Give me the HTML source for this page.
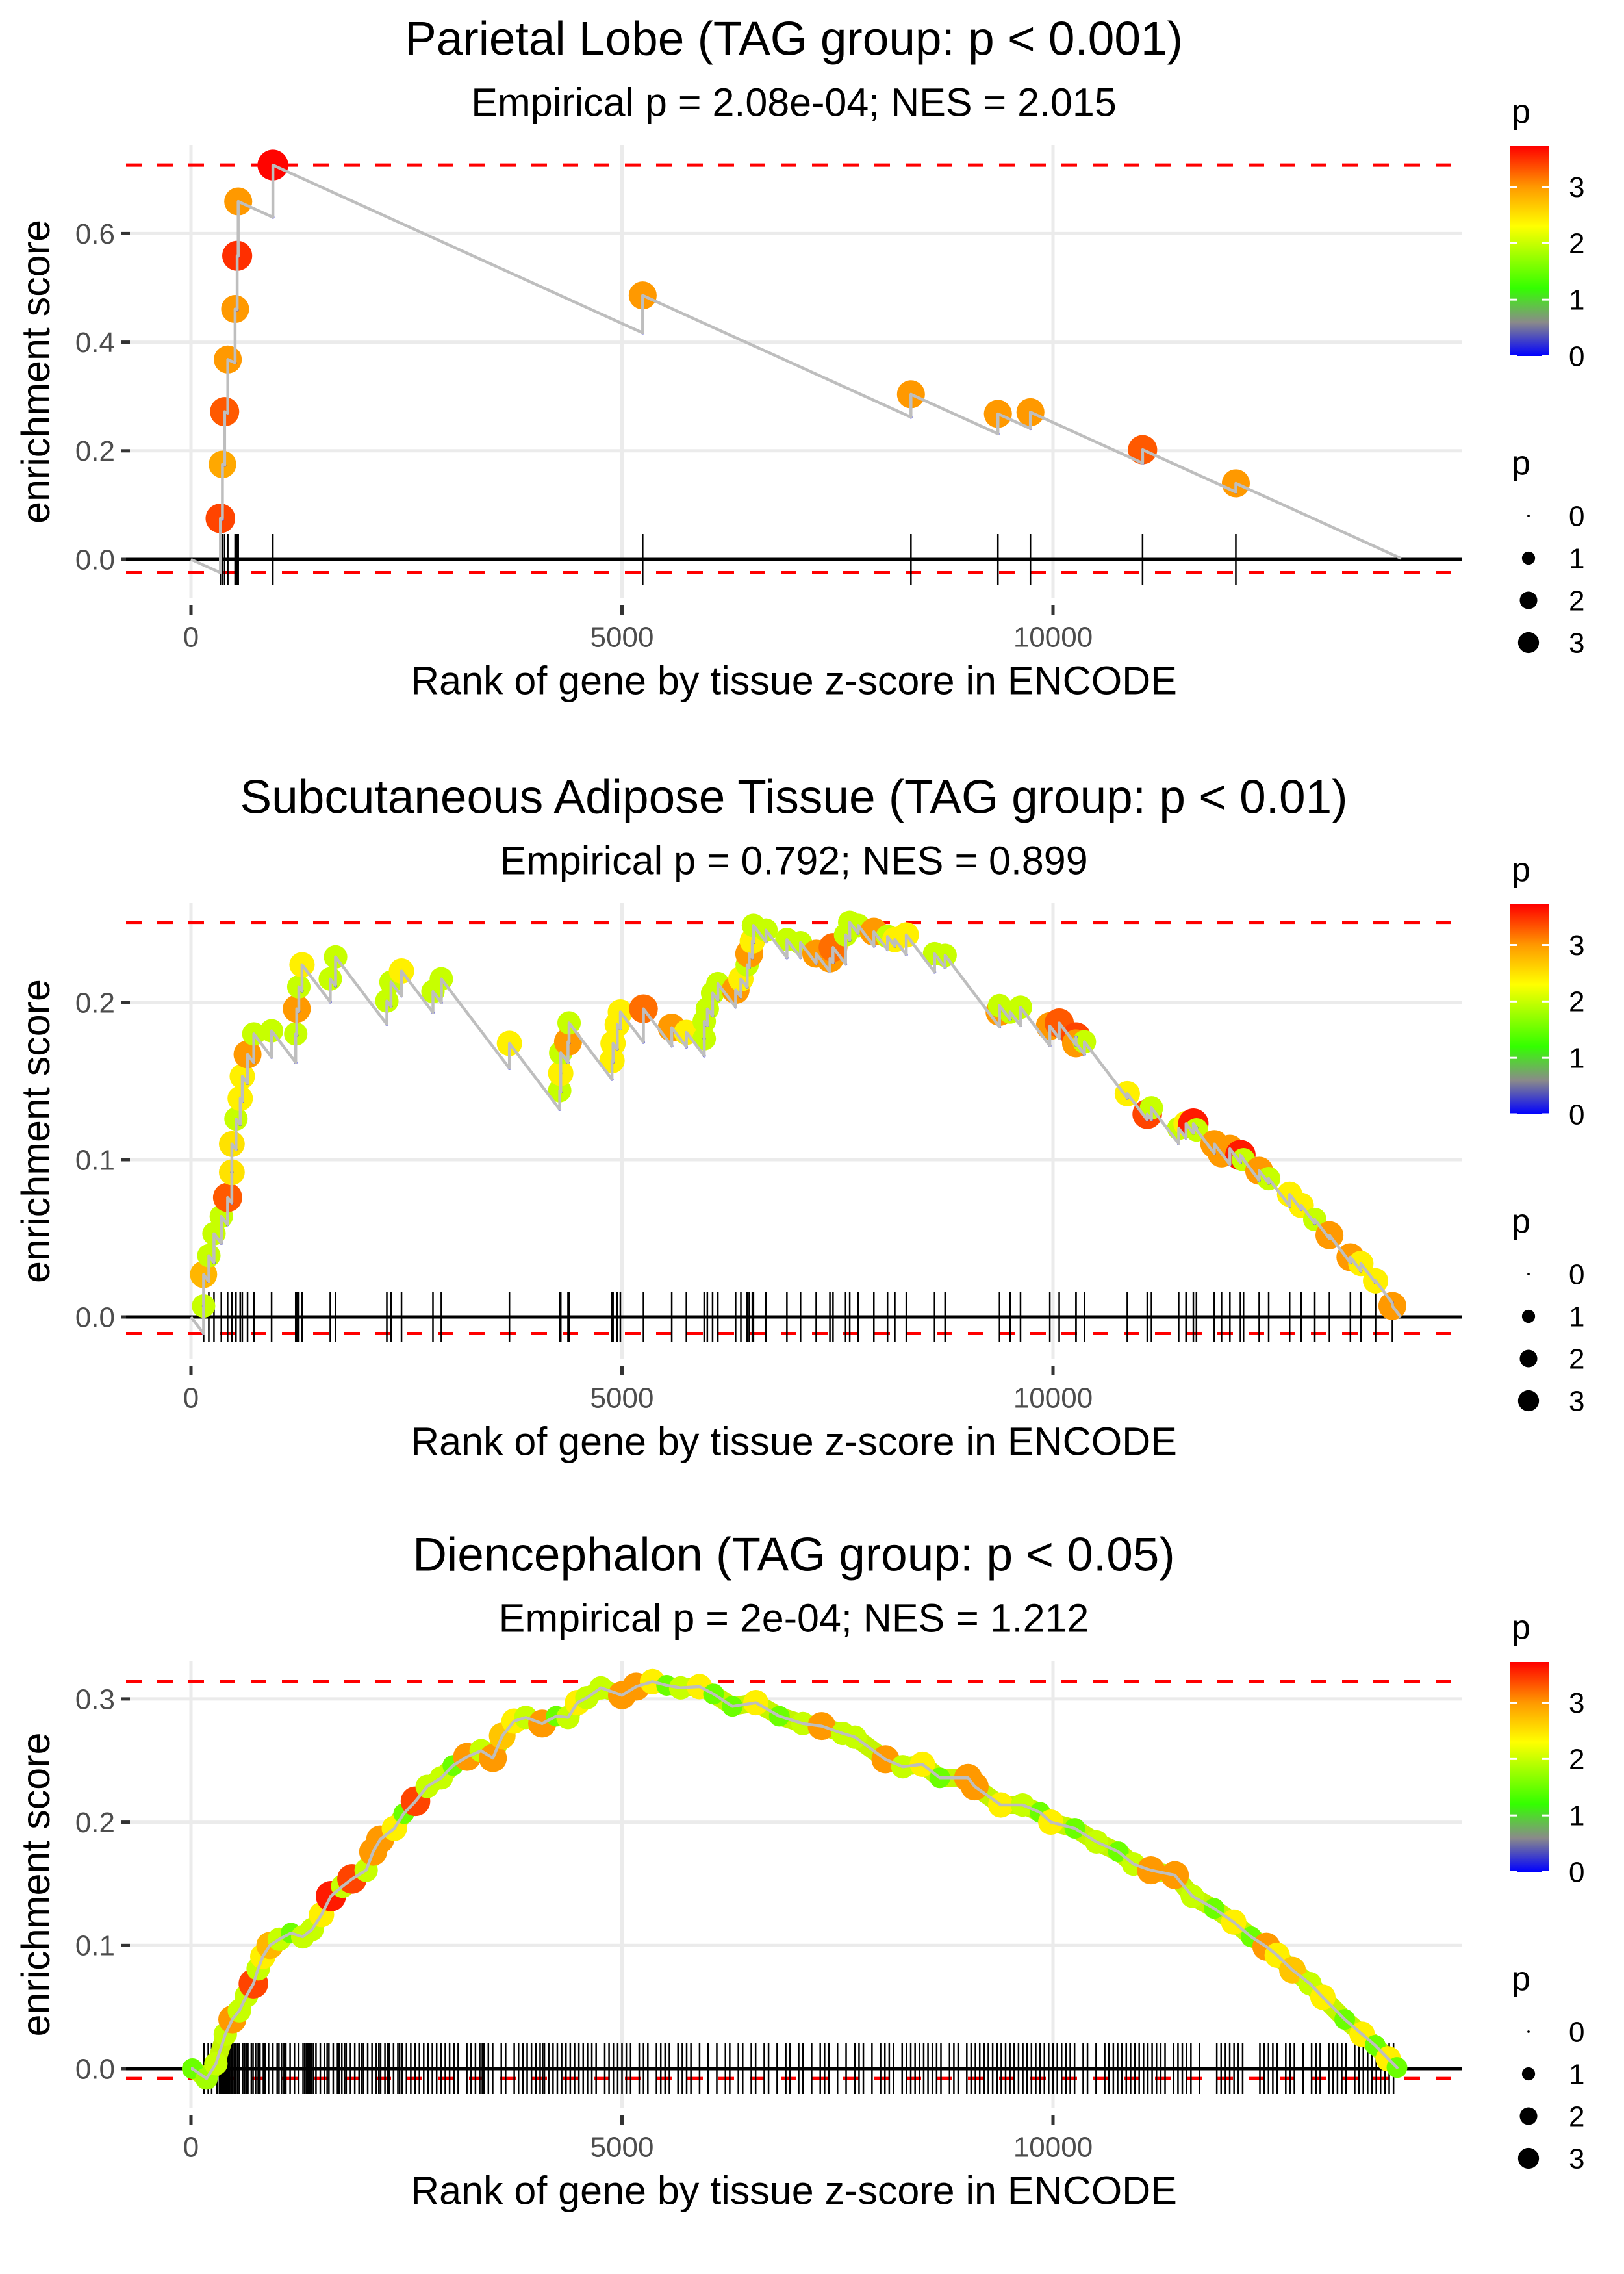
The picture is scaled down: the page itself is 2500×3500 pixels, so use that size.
<!DOCTYPE html>
<html><head><meta charset="utf-8"><style>html,body{margin:0;padding:0;background:#fff}svg{display:block}text{font-family:"Liberation Sans",Arial,sans-serif}</style></head>
<body>
<svg id="chart" width="2500" height="3500" viewBox="0 0 2500 3500" xmlns="http://www.w3.org/2000/svg"></svg>
<script>
// ---------- data ----------
const p1Titles = ["Parietal Lobe (TAG group: p < 0.001)", "Empirical p = 2.08e-04; NES = 2.015"];
const p1Rank = [341,365,390,427,512,536,548,950,5240,8352,9361,9738,11039,12121];
const p1ES   = [0.0755,0.175,0.272,0.368,0.461,0.559,0.659,0.726,0.486,0.304,0.268,0.271,0.202,0.140];
const p1P    = [3.4,2.9,3.3,3.0,3.0,3.5,3.0,3.7,3.0,3.0,3.0,3.0,3.3,3.0];
const p1N = 14040;
const p1Step = 7.2e-5;
const p1YTicks = [0,0.2,0.4,0.6];
const p1YLabels = ["0.0","0.2","0.4","0.6"];

const p2Titles = ["Subcutaneous Adipose Tissue (TAG group: p < 0.01)", "Empirical p = 0.792; NES = 0.899"];
const p2Rank = [146,146,207,267,352,425,474,474,522,571,595,656,729,935,1215,1227,1251,1288,1616,1677,2272,2320,2442,2807,2904,3694,4277,4289,4289,4374,4386,4884,4896,4945,4981,5249,5577,5747,5954,5954,5990,6051,6112,6318,6379,6452,6476,6512,6525,6670,6913,7071,7253,7412,7448,7594,7642,7740,7922,8080,8165,8298,8626,8748,9380,9380,9502,9623,9963,10072,10267,10267,10364,10862,11093,11142,11458,11543,11628,11664,11871,11955,12052,12174,12210,12392,12502,12745,12879,13037,13207,13450,13571,13742,13937];
const p2ES = [0.007,0.027,0.039,0.053,0.064,0.076,0.092,0.110,0.126,0.139,0.153,0.167,0.180,0.182,0.180,0.196,0.210,0.224,0.215,0.229,0.201,0.213,0.220,0.207,0.215,0.174,0.144,0.155,0.168,0.175,0.187,0.163,0.174,0.186,0.194,0.196,0.184,0.181,0.177,0.188,0.196,0.206,0.212,0.208,0.215,0.224,0.231,0.239,0.249,0.246,0.240,0.238,0.231,0.228,0.235,0.243,0.251,0.249,0.245,0.242,0.240,0.243,0.231,0.230,0.194,0.198,0.194,0.197,0.185,0.187,0.178,0.174,0.175,0.142,0.129,0.133,0.120,0.123,0.123,0.119,0.110,0.104,0.107,0.103,0.100,0.093,0.088,0.078,0.071,0.062,0.052,0.038,0.034,0.023,0.007];
const p2P = [2.0,2.8,2.0,2.0,2.0,3.3,2.5,2.5,2.0,2.4,2.4,3.0,2.0,2.0,2.0,3.0,2.0,2.4,2.0,2.0,2.0,2.0,2.4,2.0,2.0,2.4,2.0,2.4,2.0,3.0,2.0,2.4,2.4,2.4,2.4,3.2,3.0,2.4,2.0,2.0,2.0,2.0,2.0,3.0,2.4,2.0,3.0,2.4,2.0,2.0,2.0,2.0,3.0,3.0,3.2,2.0,2.0,2.0,3.0,2.0,2.4,2.4,2.0,2.0,3.0,2.0,2.0,2.0,3.0,3.3,3.4,3.0,2.0,2.4,3.4,2.0,2.0,2.4,3.6,2.0,3.0,3.0,3.0,3.6,2.0,3.0,2.0,2.4,2.4,2.0,3.0,3.0,2.4,2.4,3.0];
const p2N = 14035;
const p2Step = 7.2e-5;
const p2YTicks = [0,0.1,0.2];
const p2YLabels = ["0.0","0.1","0.2"];

const p3Titles = ["Diencephalon (TAG group: p < 0.05)", "Empirical p = 2e-04; NES = 1.212"];
const p3Rank = [16,180,289,398,479,561,643,724,779,833,915,1024,1160,1296,1405,1514,1623,1759,1868,2032,2113,2195,2359,2468,2604,2740,2903,3039,3203,3366,3502,3611,3748,3884,4074,4238,4374,4483,4592,4755,5000,5164,5354,5518,5681,5899,6062,6280,6553,6825,7098,7316,7561,7702,8056,8258,8485,8687,9015,9091,9394,9647,9849,9975,10253,10505,10758,10934,11136,11414,11616,11869,12096,12298,12475,12601,12778,12980,13131,13384,13586,13737,13889,13990];
const p3ES = [0.0,-0.008,0.004,0.028,0.040,0.047,0.059,0.069,0.081,0.091,0.100,0.105,0.110,0.107,0.113,0.125,0.140,0.148,0.154,0.161,0.176,0.186,0.195,0.207,0.217,0.229,0.236,0.246,0.253,0.258,0.252,0.270,0.282,0.285,0.280,0.286,0.285,0.297,0.301,0.309,0.303,0.310,0.314,0.311,0.309,0.310,0.304,0.294,0.297,0.286,0.280,0.278,0.272,0.269,0.251,0.245,0.247,0.236,0.236,0.229,0.214,0.214,0.208,0.200,0.195,0.184,0.176,0.166,0.161,0.157,0.140,0.130,0.119,0.107,0.099,0.092,0.080,0.069,0.058,0.040,0.028,0.019,0.008,0.001];
const p3P = [1.5,1.8,2.0,2.0,3.0,2.0,2.0,3.4,2.0,2.4,2.8,2.0,1.5,2.0,2.0,2.4,3.6,2.0,3.4,2.0,3.0,3.0,2.4,1.5,3.4,2.0,2.0,1.5,3.0,2.0,3.0,2.7,2.4,2.0,3.0,1.5,2.0,2.4,2.0,2.0,3.0,3.0,2.4,1.5,2.0,2.4,1.5,1.5,2.4,1.5,2.0,3.0,2.0,2.0,3.0,2.0,2.4,1.5,3.0,3.0,2.4,2.0,1.5,2.4,1.5,2.0,1.5,2.0,3.0,3.0,2.0,1.5,2.4,1.5,3.0,2.4,2.7,2.0,2.4,1.5,2.4,1.5,2.4,1.5];
const p3Rug = [150,200,240,300,330,345,360,380,395,410,430,450,470,480,500,520,540,560,600,620,640,660,700,720,750,780,800,840,860,900,950,1000,1020,1050,1080,1100,1150,1200,1250,1300,1320,1340,1350,1360,1370,1380,1400,1420,1450,1500,1550,1580,1600,1650,1700,1720,1750,1780,1800,1850,1900,1950,1980,2000,2050,2100,2150,2180,2200,2250,2280,2300,2350,2400,2420,2450,2500,2550,2600,2650,2700,2750,2800,2850,2900,2950,3000,3050,3100,3200,3250,3300,3350,3380,3400,3450,3500,3600,3650,3750,3800,3850,3900,3950,4000,4050,4080,4100,4150,4200,4250,4300,4350,4400,4450,4500,4550,4600,4650,4700,4800,4850,4900,4950,5000,5050,5100,5200,5250,5300,5400,5450,5500,5550,5650,5700,5750,5800,5900,6000,6100,6200,6250,6350,6400,6500,6550,6650,6700,6800,6900,6950,7050,7100,7200,7300,7350,7400,7500,7600,7700,7750,7800,7900,8000,8050,8100,8150,8250,8300,8350,8400,8450,8500,8550,8600,8650,8700,8800,8850,8900,9000,9050,9100,9150,9200,9250,9300,9350,9400,9450,9500,9550,9600,9650,9700,9750,9800,9850,9900,9950,10000,10050,10100,10150,10200,10250,10350,10400,10500,10600,10650,10700,10750,10800,10850,10900,10950,11000,11050,11100,11150,11200,11250,11300,11400,11450,11500,11550,11600,11700,11900,11950,12000,12050,12100,12150,12200,12400,12450,12500,12550,12600,12700,12750,12800,12900,13000,13050,13100,13200,13250,13300,13350,13400,13500,13550,13600,13650,13700,13750,13800,13850,13900,13950];
const p3N = 14000;
const p3YTicks = [0,0.1,0.2,0.3];
const p3YLabels = ["0.0","0.1","0.2","0.3"];

const xTicks = [0,5000,10000];
const xTickLabels = ["0","5000","10000"];
const legendVals = [0,1,2,3];
const legendLabels = ["0","1","2","3"];
const colorStops = [0,0.6,1.2,2.3,3.0,3.72];
const colorHex = ["#0000ff","#8a8a8a","#33ff00","#ffff00","#ff9900","#ff0000"];

// ---------- helpers ----------
const NS = "http://www.w3.org/2000/svg";
const svg = document.getElementById('chart');
function mk(tag, attrs, parent){ const e=document.createElementNS(NS,tag); for(const k in attrs) e.setAttribute(k,attrs[k]); (parent||svg).appendChild(e); return e; }
function hex2rgb(h){ return [parseInt(h.substr(1,2),16),parseInt(h.substr(3,2),16),parseInt(h.substr(5,2),16)]; }
function pColor(p){
  if(p<=colorStops[0]) return colorHex[0];
  for(let i=1;i<colorStops.length;i++){ if(p<=colorStops[i]){ const t=(p-colorStops[i-1])/(colorStops[i]-colorStops[i-1]); const a=hex2rgb(colorHex[i-1]), b=hex2rgb(colorHex[i]); return 'rgb('+a.map((v,j)=>Math.round(v+(b[j]-v)*t)).join(',')+')'; } }
  return colorHex[colorHex.length-1];
}
function pRad(p){ return 2.5 + 11*Math.sqrt(Math.max(p,0)); }
const X0=294, XK=0.1327, LEFT=194, RIGHT=2250, LG=-23;
function xs(r){ return X0 + r*XK; }

function txt(parent,x,y,s,fs,anchor,fill,name){
  const t=mk('text',{x:x,y:y+fs*0.35,'font-size':fs,'text-anchor':anchor,fill:fill},parent);
  
  
  t.textContent=s; return t;
}

function panel(idx, off, cfg){
  const g=mk('g',{});
  
  
  const ys = v => cfg.y0 - v*cfg.k;
  const top=off+223, bot=off+cfg.bottom;
  cfg.yTicks.forEach((v,i)=>{
    const l=mk('line',{x1:LEFT,x2:RIGHT,y1:ys(v),y2:ys(v),stroke:'#ebebeb','stroke-width':5},g);
     
    const tk=mk('line',{x1:186,x2:200,y1:ys(v),y2:ys(v),stroke:'#333','stroke-width':5},g);
     
    txt(g,177,ys(v),cfg.yLabels[i],44,'end','#4d4d4d','y-tick-label');
  });
  xTicks.forEach((v,i)=>{
    const l=mk('line',{x1:xs(v),x2:xs(v),y1:top,y2:bot,stroke:'#ebebeb','stroke-width':5},g);
     
    const tk=mk('line',{x1:xs(v),x2:xs(v),y1:bot+10,y2:bot+25,stroke:'#333','stroke-width':5},g);
     
    txt(g,xs(v),bot+59,xTickLabels[i],44,'middle','#4d4d4d','x-tick-label');
  });
  const pts=[[0,0]]; const pre=[];
  if(cfg.step){
    let cur=0, pr=0;
    cfg.rank.forEach((r,i)=>{ const b=cur-cfg.step*(r-pr); pts.push([r,b]); pre.push([r,b]); pts.push([r,cfg.es[i]]); cur=cfg.es[i]; pr=r; });
    pts.push([cfg.N, cur-cfg.step*(cfg.N-pr)]);
  } else {
    cfg.rank.forEach((r,i)=>pts.push([r,cfg.es[i]]));
    pts.push([cfg.N,0]);
  }
  const esVals=pts.map(p=>p[1]);
  const mx=Math.max(...esVals), mn=Math.min(...esVals);
  [mx,mn].forEach((v,i)=>{
    const d=mk('line',{x1:LEFT,x2:RIGHT,y1:ys(v),y2:ys(v),stroke:'#ff0000','stroke-width':5,'stroke-dasharray':'24 24'},g);
    
    
  });
  const rug = cfg.rug || cfg.rank;
  rug.forEach(r=>{
    const l=mk('line',{x1:xs(r),x2:xs(r),y1:cfg.y0-39,y2:cfg.y0+39,stroke:'#000','stroke-width':2.5},g);
     
  });
  const z=mk('line',{x1:LEFT,x2:RIGHT,y1:ys(0),y2:ys(0),stroke:'#000','stroke-width':5},g);
   
  const dstr=pts.map((p,i)=>(i?'L':'M')+xs(p[0]).toFixed(1)+' '+ys(p[1]).toFixed(1)).join(' ');
  if(cfg.band){
    const b=mk('path',{d:dstr,fill:'none',stroke:'#c4f500','stroke-width':28,'stroke-linejoin':'round','stroke-linecap':'round'},g);
     
  }
  cfg.rank.forEach((r,i)=>{
    const c=mk('circle',{cx:xs(r),cy:ys(cfg.es[i]),r:pRad(cfg.p[i]),fill:pColor(cfg.p[i])},g);
     
  });
  pre.forEach(p=>{
    const c=mk('circle',{cx:xs(p[0]),cy:ys(p[1]),r:2.5,fill:'#0000ff'},g);
     
  });
  const line=mk('path',{d:dstr,fill:'none',stroke:'#bebebe','stroke-width':4.5,'stroke-linejoin':'round'},g);
   
  txt(g,1222,off+59,cfg.titles[0],73,'middle','#000','plot-title');
  txt(g,1222,off+157,cfg.titles[1],61,'middle','#000','plot-subtitle');
  txt(g,1222,off+cfg.bottom+126,'Rank of gene by tissue z-score in ENCODE',61,'middle','#000','x-axis-title');
  const yt=mk('text',{x:0,y:0,'font-size':61,'text-anchor':'middle',fill:'#000',transform:'translate('+(56+20)+','+((top+bot)/2)+') rotate(-90)'},g);
   
  yt.textContent='enrichment score';
  const gid='grad'+idx;
  const defs=mk('defs',{},g);
  const lg=mk('linearGradient',{id:gid,x1:0,y1:1,x2:0,y2:0},defs);
  colorStops.forEach((s,i)=>mk('stop',{offset:(s/3.72).toFixed(3),'stop-color':colorHex[i]},lg));
  const cbTop=off+225, cbBot=off+548;
  const cb=mk('rect',{x:2347+LG,y:cbTop,width:61,height:cbBot-cbTop,fill:'url(#'+gid+')'},g);
   
  txt(g,2350+LG,off+171,'p',52,'start','#000','color-legend-title');
  legendVals.forEach((v,i)=>{
    const y2=cbBot-(v/3.72)*(cbBot-cbTop);
    mk('line',{x1:2347+LG,x2:2359+LG,y1:y2,y2:y2,stroke:'#fff','stroke-width':3},g);
    mk('line',{x1:2396+LG,x2:2408+LG,y1:y2,y2:y2,stroke:'#fff','stroke-width':3},g);
    txt(g,2438+LG,y2,legendLabels[i],44,'start','#000','color-legend-label');
  });
  txt(g,2350+LG,off+712,'p',52,'start','#000','size-legend-title');
  legendVals.forEach((v,i)=>{
    const yy=off+794+i*65;
    const c=mk('circle',{cx:2376+LG,cy:yy,r:Math.min(pRad(v)*0.75,17),fill:'#000'},g);
     
    txt(g,2438+LG,yy,legendLabels[i],44,'start','#000','size-legend-label');
  });
}

panel(1,0,{titles:p1Titles,rank:p1Rank,es:p1ES,p:p1P,N:p1N,step:p1Step,yTicks:p1YTicks,yLabels:p1YLabels,y0:861,k:836,bottom:921});
panel(2,1167,{titles:p2Titles,rank:p2Rank,es:p2ES,p:p2P,N:p2N,step:p2Step,yTicks:p2YTicks,yLabels:p2YLabels,y0:2027,k:2420,bottom:925});
panel(3,2333,{titles:p3Titles,rank:p3Rank,es:p3ES,p:p3P,N:p3N,rug:p3Rug,band:true,yTicks:p3YTicks,yLabels:p3YLabels,y0:3184,k:1897,bottom:912});
</script>
</body></html>
